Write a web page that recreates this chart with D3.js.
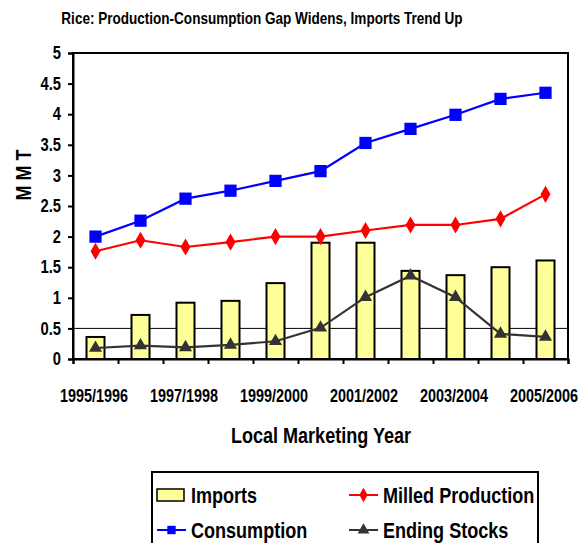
<!DOCTYPE html>
<html>
<head>
<meta charset="utf-8">
<script src="https://cdn.jsdelivr.net/npm/d3@7"></script>
<style>
  body { margin: 0; background: #fff; }
  svg text { font-family: "Liberation Sans", Arial, sans-serif; font-weight: bold; fill: #000; }
</style>
</head>
<body>
<svg id="chart" width="582" height="543"></svg>
<script>
const years = ['1995/1996', '1996/1997', '1997/1998', '1998/1999', '1999/2000', '2000/2001',
  '2001/2002', '2002/2003', '2003/2004', '2004/2005', '2005/2006'];
const imports = [0.36, 0.72, 0.92, 0.95, 1.24, 1.90, 1.90, 1.44, 1.37, 1.50, 1.61];
const milledProduction = [1.76, 1.94, 1.83, 1.91, 2.0, 2.0, 2.10, 2.19, 2.19, 2.29, 2.69];
const consumption = [2.0, 2.26, 2.62, 2.75, 2.91, 3.07, 3.53, 3.76, 3.99, 4.25, 4.35];
const endingStocks = [0.18, 0.22, 0.19, 0.23, 0.29, 0.51, 1.01, 1.36, 1.01, 0.41, 0.36];
const yTicks = [0, 0.5, 1, 1.5, 2, 2.5, 3, 3.5, 4, 4.5, 5];
const xLabels = ['1995/1996', '1997/1998', '1999/2000', '2001/2002', '2003/2004', '2005/2006'];

const svg = d3.select('#chart');
const plotL = 73, plotR = 568, plotT = 53, plotB = 359;

const x = d3.scaleBand().domain(years).range([plotL, plotR]);
const xEdge = d3.scaleLinear().domain([0, years.length]).range([plotL, plotR]);
const y = d3.scaleLinear().domain([0, 5]).range([plotB, plotT]);
const cx = (d, i) => x(years[i]) + x.bandwidth() / 2;

// squeeze text horizontally to look like a narrow face
function narrow(sel, k = 0.82) {
  sel.each(function () {
    const len = this.getComputedTextLength();
    d3.select(this).attr('textLength', len * k).attr('lengthAdjust', 'spacingAndGlyphs');
  });
}

// title
svg.append('text').attr('x', 262).attr('y', 24).attr('text-anchor', 'middle')
  .style('font-size', '16.5px').text('Rice: Production-Consumption Gap Widens, Imports Trend Up')
  .call(narrow);

// plot frame
svg.append('rect').attr('x', plotL).attr('y', plotT).attr('width', plotR - plotL).attr('height', plotB - plotT)
  .attr('fill', 'none').attr('stroke', '#000').attr('stroke-width', 2);

// gridline at 0.5
svg.append('line').attr('x1', plotL).attr('x2', plotR).attr('y1', y(0.5)).attr('y2', y(0.5))
  .attr('stroke', '#000').attr('stroke-width', 1);

// bars
const bw = x.bandwidth() * 0.4;
svg.append('g').selectAll('rect').data(imports).join('rect')
  .attr('x', (d, i) => cx(d, i) - bw / 2)
  .attr('y', d => y(d))
  .attr('width', bw)
  .attr('height', d => plotB - y(d))
  .attr('fill', '#FFFF99').attr('stroke', '#000').attr('stroke-width', 2);

// y axis
const yAxis = svg.append('g').attr('transform', `translate(${plotL},0)`)
  .call(d3.axisLeft(y).tickValues(yTicks).tickSize(5).tickPadding(7).tickFormat(d => String(d)));
yAxis.attr('font-family', null).attr('font-size', null);
yAxis.select('.domain').attr('stroke-width', 2);
yAxis.selectAll('.tick line').attr('stroke-width', 2);
yAxis.selectAll('text').style('font-size', '18px').call(narrow);

// x axis (ticks on category boundaries)
const xAxis = svg.append('g').attr('transform', `translate(0,${plotB})`)
  .call(d3.axisBottom(xEdge).tickValues(d3.range(0, years.length + 1)).tickSize(5).tickFormat(''));
xAxis.select('.domain').attr('stroke-width', 2);
xAxis.selectAll('.tick line').attr('stroke-width', 2);

// category labels, every other year, squeezed with a scale transform
svg.append('g').selectAll('text').data(xLabels).join('text')
  .attr('transform', d => `translate(${x(d) + x.bandwidth() / 2 - 1.5},402) scale(0.8,1)`)
  .attr('text-anchor', 'middle')
  .style('font-size', '18px').text(d => d);

// axis titles
svg.append('text').attr('transform', 'translate(31,175) rotate(-90)').attr('text-anchor', 'middle')
  .style('font-size', '22px').text('M M T').call(narrow);
svg.append('text').attr('x', 321).attr('y', 443).attr('text-anchor', 'middle')
  .style('font-size', '22px').text('Local Marketing Year').call(narrow);

// lines
const line = d3.line().x((d, i) => cx(d, i)).y(d => y(d));
function series(values, color, symbol, size) {
  const g = svg.append('g');
  g.append('path').datum(values).attr('d', line).attr('fill', 'none')
    .attr('stroke', color).attr('stroke-width', 2.2);
  g.selectAll('path.m').data(values).join('path').attr('class', 'm')
    .attr('transform', (d, i) => `translate(${cx(d, i)},${y(d)})`)
    .attr('d', d3.symbol().type(symbol).size(size))
    .attr('fill', color);
}
series(endingStocks, '#333333', d3.symbolTriangle, 75);
series(milledProduction, '#FF0000', d3.symbolDiamond, 85);
series(consumption, '#0000FF', d3.symbolSquare, 150);

// legend
const lg = svg.append('g');
lg.append('rect').attr('x', 152).attr('y', 472).attr('width', 386).attr('height', 80)
  .attr('fill', '#fff').attr('stroke', '#000').attr('stroke-width', 2);
const legendItems = [
  { name: 'Imports', type: 'bar', lx: 157, ly: 495 },
  { name: 'Milled Production', type: 'line', color: '#FF0000', symbol: d3.symbolDiamond, size: 60, lx: 349, ly: 495 },
  { name: 'Consumption', type: 'line', color: '#0000FF', symbol: d3.symbolSquare, size: 70, lx: 157, ly: 530 },
  { name: 'Ending Stocks', type: 'line', color: '#333333', symbol: d3.symbolTriangle, size: 60, lx: 349, ly: 530 }
];
legendItems.forEach(it => {
  if (it.type === 'bar') {
    lg.append('rect').attr('x', it.lx).attr('y', it.ly - 6).attr('width', 27).attr('height', 12)
      .attr('fill', '#FFFF99').attr('stroke', '#000').attr('stroke-width', 1.5);
  } else {
    lg.append('line').attr('x1', it.lx).attr('x2', it.lx + 29).attr('y1', it.ly).attr('y2', it.ly)
      .attr('stroke', it.color).attr('stroke-width', 2);
    lg.append('path').attr('transform', `translate(${it.lx + 14.5},${it.ly})`)
      .attr('d', d3.symbol().type(it.symbol).size(it.size)).attr('fill', it.color);
  }
  lg.append('text').attr('x', it.lx + 34).attr('y', it.ly + 8)
    .style('font-size', '22px').text(it.name).call(narrow);
});
</script>
</body>
</html>
